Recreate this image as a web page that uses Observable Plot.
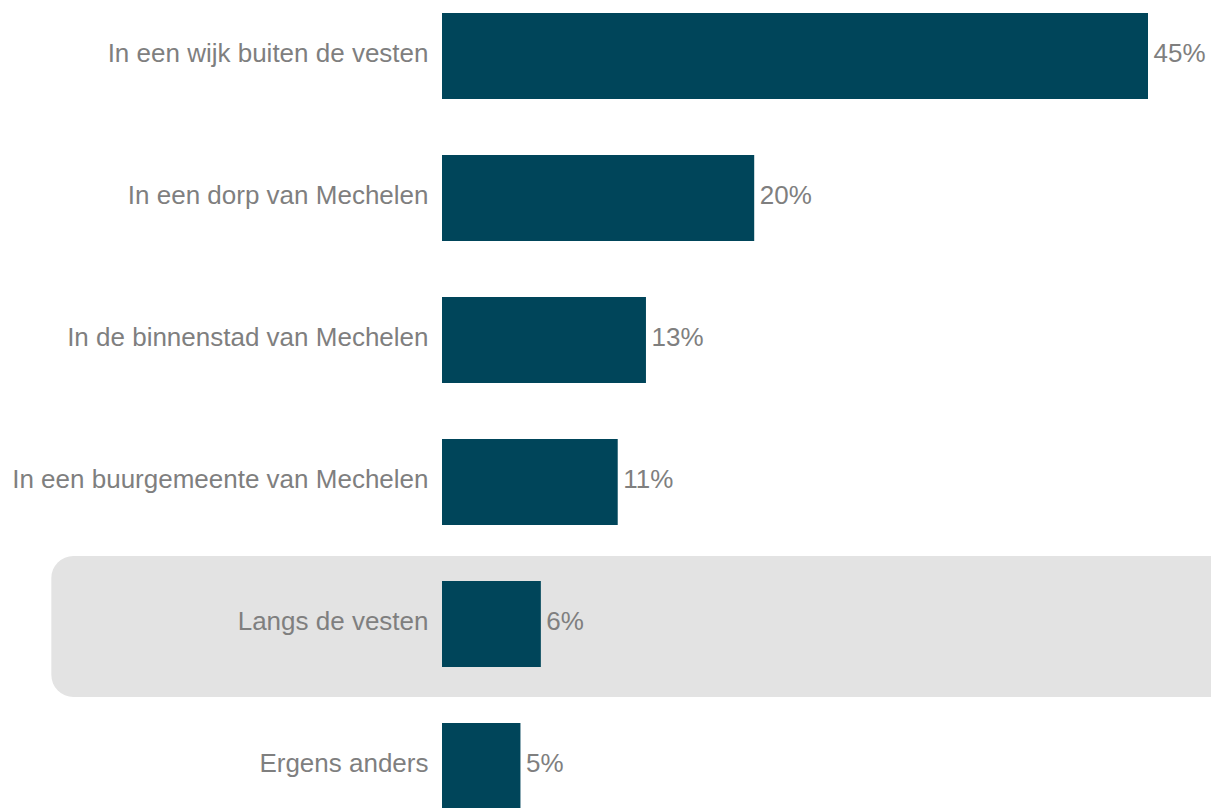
<!DOCTYPE html>
<html>
<head>
<meta charset="utf-8">
<script src="https://cdn.jsdelivr.net/npm/d3@7"></script>
<script src="https://cdn.jsdelivr.net/npm/@observablehq/plot@0.6"></script>
<style>
  html, body { margin: 0; padding: 0; background: #fff; }
  svg { display: block; }
</style>
</head>
<body>
<div id="chart"></div>
<script>
const categories = [
  "In een wijk buiten de vesten",
  "In een dorp van Mechelen",
  "In de binnenstad van Mechelen",
  "In een buurgemeente van Mechelen",
  "Langs de vesten",
  "Ergens anders"
];
const values = [45.0, 19.9, 13.0, 11.2, 6.3, 5.0];
const labels = ["45%", "20%", "13%", "11%", "6%", "5%"];
const highlighted = ["Langs de vesten"];

const data = categories.map((c, i) => ({category: c, value: values[i], label: labels[i]}));
const hl = data.filter(d => highlighted.includes(d.category));

const chart = Plot.plot({
  width: 1211,
  height: 808,
  marginLeft: 442,
  marginRight: 63,
  marginTop: 11.5,
  marginBottom: -2,
  style: {fontFamily: "Liberation Sans, Arial, sans-serif", fontSize: "26px", color: "#7f7f7f", background: "#fff"},
  x: {domain: [0, 45], axis: null},
  y: {domain: categories, paddingInner: 0.396, paddingOuter: 0, label: null, tickSize: 0, tickPadding: 14},
  marks: [
    Plot.barX(hl, {x1: -24.9, x2: 70, y: "category", fill: "#e3e3e3", rx: 22, insetTop: -25, insetBottom: -30}),
    Plot.barX(data, {x: "value", y: "category", fill: "#00455a"}),
    Plot.text(data, {x: "value", y: "category", text: "label", textAnchor: "start", dx: 5, dy: -3, fill: "#7f7f7f", fontSize: 26}),
    Plot.axisY({tickSize: 0, tickPadding: 14, dy: -3, fontSize: 26, fill: "#7f7f7f", label: null})
  ]
});
document.getElementById("chart").appendChild(chart);
</script>
</body>
</html>
